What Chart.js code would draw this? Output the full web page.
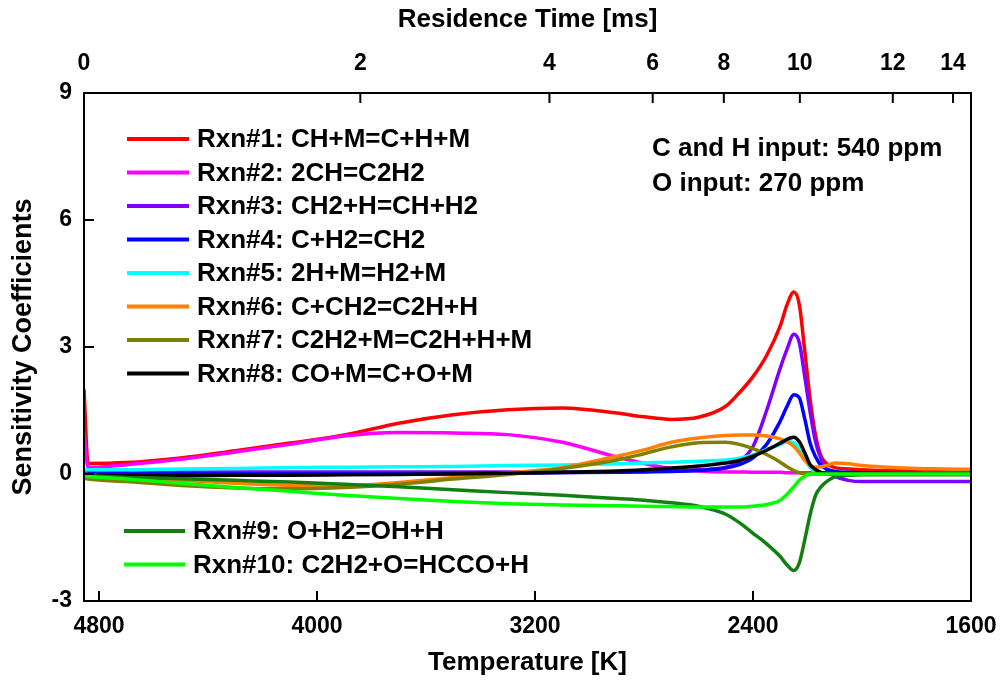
<!DOCTYPE html>
<html>
<head>
<meta charset="utf-8">
<title>Sensitivity Coefficients</title>
<script src="https://cdn.jsdelivr.net/npm/chart.js@4.4.0/dist/chart.umd.min.js"></script>
<style>
  body { margin: 0; background: #fff; }
  #wrap { width: 1003px; height: 681px; }
</style>
</head>
<body>
<div id="wrap"><canvas id="graphCanvas"></canvas></div>
<script>
// temperature grid [K], shared by all curves
var temps = [4855, 4840, 4700, 4500, 4300, 4100, 3900, 3700, 3500, 3300, 3100, 2900, 2800, 2700, 2600, 2500, 2450, 2400, 2350, 2300, 2275, 2250, 2230, 2210, 2190, 2170, 2150, 2130, 2100, 2050, 2000, 1900, 1800, 1700, 1600];

var rxn1  = [2.0, 0.25, 0.27, 0.38, 0.55, 0.73, 0.92, 1.2, 1.4, 1.52, 1.56, 1.44, 1.35, 1.29, 1.34, 1.6, 1.92, 2.3, 2.8, 3.5, 4.0, 4.3, 4.0, 2.9, 1.75, 0.9, 0.42, 0.25, 0.15, 0.12, 0.1, 0.08, 0.07, 0.06, 0.06];
var rxn2  = [1.0, 0.15, 0.22, 0.35, 0.52, 0.7, 0.9, 0.98, 0.97, 0.93, 0.75, 0.4, 0.25, 0.13, 0.07, 0.05, 0.05, 0.04, 0.04, 0.04, 0.03, 0.03, 0.03, 0.03, 0.03, 0.03, 0.02, 0.02, 0.02, 0.02, 0.02, 0.01, 0.01, 0.01, 0.01];
var rxn3  = [0.05, 0.05, 0.05, 0.05, 0.05, 0.05, 0.05, 0.05, 0.05, 0.05, 0.05, 0.05, 0.06, 0.07, 0.1, 0.16, 0.3, 0.65, 1.5, 2.5, 2.95, 3.3, 3.1, 2.3, 1.45, 0.75, 0.35, 0.1, -0.05, -0.15, -0.18, -0.18, -0.18, -0.18, -0.18];
var rxn4  = [0.0, 0.0, 0.0, 0.0, 0.0, 0.0, 0.0, 0.0, 0.01, 0.02, 0.03, 0.04, 0.05, 0.06, 0.08, 0.14, 0.22, 0.38, 0.7, 1.25, 1.6, 1.87, 1.8, 1.3, 0.72, 0.4, 0.2, 0.12, 0.06, 0.04, 0.03, 0.02, 0.01, 0.0, 0.0];
var rxn5  = [0.1, 0.1, 0.1, 0.12, 0.13, 0.15, 0.16, 0.17, 0.18, 0.2, 0.21, 0.24, 0.26, 0.28, 0.3, 0.33, 0.37, 0.45, 0.58, 0.7, 0.76, 0.74, 0.6, 0.35, 0.15, 0.05, 0.02, 0.01, 0.0, 0.0, 0.0, 0.0, 0.0, 0.0, 0.0];
var rxn6  = [0.0, -0.02, -0.07, -0.15, -0.22, -0.27, -0.28, -0.2, -0.08, 0.03, 0.15, 0.42, 0.57, 0.75, 0.85, 0.91, 0.92, 0.92, 0.9, 0.83, 0.76, 0.65, 0.5, 0.32, 0.2, 0.16, 0.17, 0.2, 0.26, 0.24, 0.2, 0.16, 0.13, 0.12, 0.11];
var rxn7  = [-0.1, -0.12, -0.18, -0.27, -0.33, -0.35, -0.32, -0.24, -0.12, -0.01, 0.13, 0.33, 0.48, 0.64, 0.74, 0.75, 0.7, 0.6, 0.46, 0.28, 0.17, 0.08, 0.03, 0.01, 0.0, 0.0, 0.0, 0.0, 0.0, 0.0, 0.0, 0.0, 0.0, 0.0, 0.0];
var rxn8  = [0.0, -0.04, -0.04, -0.04, -0.03, -0.03, -0.02, -0.01, 0.0, 0.02, 0.04, 0.07, 0.1, 0.14, 0.19, 0.26, 0.32, 0.42, 0.56, 0.73, 0.82, 0.87, 0.76, 0.5, 0.22, 0.1, 0.04, 0.02, 0.0, 0.0, 0.0, 0.0, 0.0, 0.0, 0.0];
var rxn9  = [-0.05, -0.05, -0.08, -0.11, -0.15, -0.19, -0.24, -0.3, -0.37, -0.44, -0.5, -0.58, -0.62, -0.68, -0.76, -0.95, -1.15, -1.4, -1.65, -1.95, -2.15, -2.28, -2.1, -1.55, -0.95, -0.5, -0.3, -0.18, -0.07, -0.03, -0.02, -0.02, -0.02, -0.02, -0.02];
var rxn10 = [-0.05, -0.06, -0.12, -0.22, -0.32, -0.41, -0.5, -0.58, -0.65, -0.7, -0.73, -0.75, -0.76, -0.77, -0.78, -0.78, -0.78, -0.76, -0.72, -0.62, -0.48, -0.3, -0.15, -0.05, 0.0, 0.0, 0.0, 0.0, 0.0, 0.0, 0.0, 0.0, 0.0, 0.0, 0.0];

var names = ['Rxn#1: CH+M=C+H+M', 'Rxn#2: 2CH=C2H2', 'Rxn#3: CH2+H=CH+H2', 'Rxn#4: C+H2=CH2',
             'Rxn#5: 2H+M=H2+M', 'Rxn#6: C+CH2=C2H+H', 'Rxn#7: C2H2+M=C2H+H+M', 'Rxn#8: CO+M=C+O+M',
             'Rxn#9: O+H2=OH+H', 'Rxn#10: C2H2+O=HCCO+H'];
var colors = ['#ff0000', '#ff00ff', '#8000ff', '#0000ff', '#00ffff', '#ff8000', '#808000', '#000000', '#118011', '#00ff00'];
var series = [rxn1, rxn2, rxn3, rxn4, rxn5, rxn6, rxn7, rxn8, rxn9, rxn10];

// axis ticks
var tempMin = 1600, tempMax = 4855;
var tempTicks = [4800, 4000, 3200, 2400, 1600];
var timeLabels = ['0', '2', '4', '6', '8', '10', '12', '14'];
var timeTickTemps = [4855, 3841, 3147, 2768, 2507, 2228, 1887, 1666];
var yTicks = [-3, 0, 3, 6, 9];
var notes = ['C and H input: 540 ppm', 'O input: 270 ppm'];

Chart.defaults.font.family = '"Liberation Sans", Arial, sans-serif';
Chart.defaults.font.weight = 'bold';
Chart.defaults.color = '#000';

var datasets = [];
for (var i = 0; i < series.length; i++) {
  datasets.push({
    label: names[i],
    data: temps.map(function(t, k) { return { x: t, y: series[i][k] }; }),
    borderColor: colors[i],
    backgroundColor: colors[i],
    borderWidth: 3.5,
    pointRadius: 0,
    fill: false,
    cubicInterpolationMode: 'monotone',
    order: series.length - i
  });
}

// frame, inward ticks, legend and notes
var decor = {
  id: 'decor',
  afterDraw: function(chart) {
    var ctx = chart.ctx, a = chart.chartArea;
    var sx = chart.scales.x, st = chart.scales.x2, sy = chart.scales.y;
    ctx.save();
    ctx.strokeStyle = '#000';
    ctx.lineWidth = 2;
    ctx.strokeRect(a.left, a.top, a.right - a.left, a.bottom - a.top);
    ctx.beginPath();
    tempTicks.forEach(function(v) {
      var p = sx.getPixelForValue(v);
      ctx.moveTo(p, a.bottom); ctx.lineTo(p, a.bottom - 10);
    });
    timeTickTemps.forEach(function(v) {
      var p = st.getPixelForValue(v);
      ctx.moveTo(p, a.top); ctx.lineTo(p, a.top + 10);
    });
    yTicks.forEach(function(v) {
      var p = sy.getPixelForValue(v);
      ctx.moveTo(a.left, p); ctx.lineTo(a.left + 10, p);
    });
    ctx.stroke();

    ctx.font = 'bold 26px "Liberation Sans", Arial, sans-serif';
    ctx.textBaseline = 'middle';
    ctx.textAlign = 'left';
    ctx.lineWidth = 4;
    for (var i = 0; i < names.length; i++) {
      var y, x0, x1, tx;
      if (i < 8) { y = 139 + i * 33.5; x0 = 127; x1 = 189; tx = 197; }
      else { y = 531 + (i - 8) * 33.5; x0 = 124; x1 = 185; tx = 193; }
      ctx.strokeStyle = colors[i];
      ctx.beginPath(); ctx.moveTo(x0, y); ctx.lineTo(x1, y); ctx.stroke();
      ctx.fillStyle = '#000';
      ctx.fillText(names[i], tx, y + 1);
    }
    ctx.fillText(notes[0], 652, 149);
    ctx.fillText(notes[1], 652, 184);
    ctx.restore();
  }
};

function fixHeight(h) {
  return function(s) { s.height = h; s.paddingLeft = 0; s.paddingRight = 0; };
}

var ctx = document.getElementById('graphCanvas');
var chart = new Chart(ctx, {
  type: 'line',
  data: { datasets: datasets },
  options: {
    responsive: true,
    maintainAspectRatio: false,
    animation: false,
    layout: { padding: { left: 0, right: 32, top: 0, bottom: 0 } },
    plugins: { legend: { display: false }, tooltip: { enabled: false } },
    scales: {
      x: {
        type: 'linear', position: 'bottom', min: tempMin, max: tempMax, reverse: true,
        afterBuildTicks: function(s) { s.ticks = tempTicks.map(function(v) { return { value: v }; }); },
        afterFit: fixHeight(80),
        grid: { display: false, drawTicks: false },
        border: { display: false },
        ticks: { autoSkip: false, maxRotation: 0, padding: 12, font: { size: 23 },
                 callback: function(v) { return String(v); } },
        title: { display: true, text: 'Temperature [K]', font: { size: 26 }, padding: { top: 0, bottom: 3 } }
      },
      x2: {
        type: 'linear', position: 'top', min: tempMin, max: tempMax, reverse: true,
        afterBuildTicks: function(s) { s.ticks = timeTickTemps.map(function(v) { return { value: v }; }); },
        afterFit: fixHeight(93),
        grid: { display: false, drawTicks: false },
        border: { display: false },
        ticks: { autoSkip: false, maxRotation: 0, padding: 16, font: { size: 23 },
                 callback: function(v, i) { return timeLabels[i]; } },
        title: { display: true, text: 'Residence Time [ms]', font: { size: 26 }, padding: { top: 4, bottom: 0 } }
      },
      y: {
        min: -3, max: 9,
        afterBuildTicks: function(s) { s.ticks = yTicks.map(function(v) { return { value: v }; }); },
        afterFit: function(s) { s.width = 84; },
        grid: { display: false, drawTicks: false },
        border: { display: false },
        ticks: { padding: 12, font: { size: 23 } },
        title: { display: true, text: 'Sensitivity Coefficients', font: { size: 27 }, padding: { top: 7, bottom: 0 } }
      }
    }
  },
  plugins: [decor]
});
</script>
</body>
</html>
